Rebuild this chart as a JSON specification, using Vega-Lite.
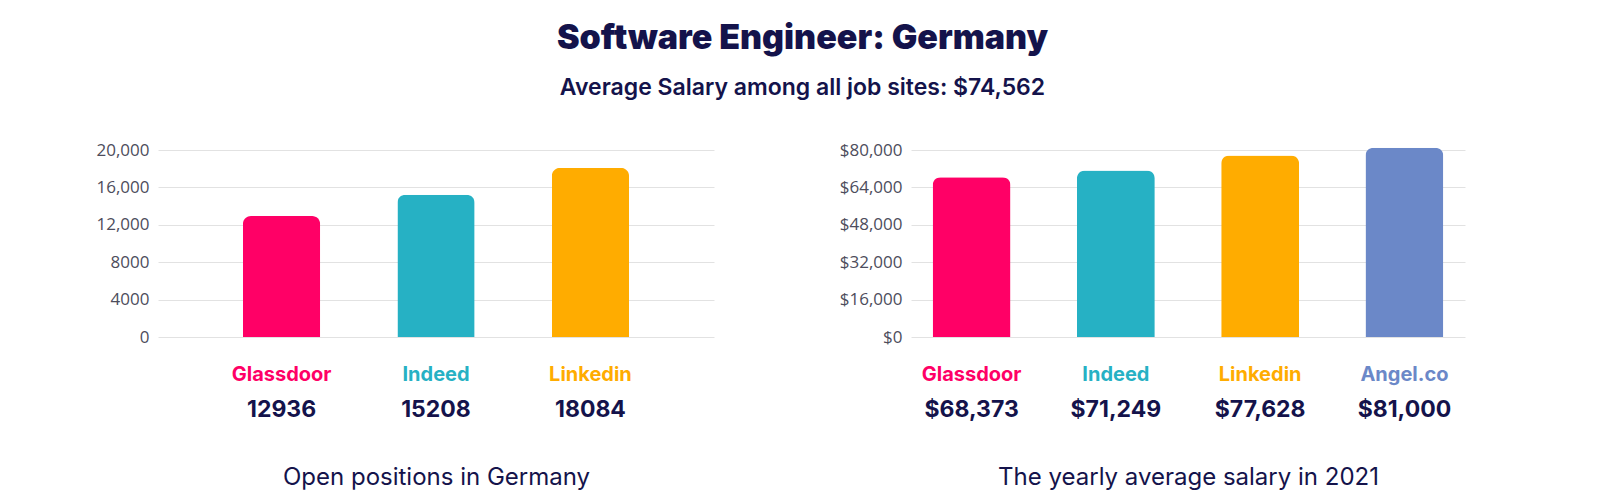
{
  "$schema": "https://vega.github.io/schema/vega-lite/v6.json",
  "background": "white",
  "padding": {"left": 95, "top": 22, "right": 10, "bottom": 5},
  "title": {
    "text": "Software Engineer: Germany",
    "subtitle": "Average Salary among all job sites: $74,562",
    "anchor": "middle",
    "dx": 22,
    "font": "Inter",
    "fontSize": 34,
    "fontWeight": 900,
    "color": "#14134b",
    "subtitleFont": "Inter",
    "subtitleFontSize": 23,
    "subtitleFontWeight": 600,
    "subtitleColor": "#14134b",
    "subtitlePadding": 21,
    "offset": 41
  },
  "datasets": {
    "positions": [
      {"site": "Glassdoor", "value": 12936, "label": "12936"},
      {"site": "Indeed", "value": 15208, "label": "15208"},
      {"site": "Linkedin", "value": 18084, "label": "18084"}
    ],
    "salary": [
      {"site": "Glassdoor", "value": 68373, "label": "$68,373"},
      {"site": "Indeed", "value": 71249, "label": "$71,249"},
      {"site": "Linkedin", "value": 77628, "label": "$77,628"},
      {"site": "Angel.co", "value": 81000, "label": "$81,000"}
    ]
  },
  "hconcat": [
    {
      "width": 556,
      "height": 187,
      "data": {"name": "positions"},
      "layer": [
        {
          "mark": {"type": "bar", "cornerRadiusTopLeft": 8, "cornerRadiusTopRight": 8, "clip": false},
          "encoding": {
            "x": {
              "field": "site", "type": "nominal", "sort": null,
              "scale": {"paddingInner": 0.5, "paddingOuter": 0.55},
              "axis": {
                "orient": "bottom", "title": null, "labelAngle": 0, "domain": false, "ticks": false, "grid": false,
                "labelPadding": 27, "labelFont": "Inter", "labelFontSize": 20, "labelFontWeight": "bold",
                "labelColor": {"condition": [
                  {"test": "datum.value === 'Glassdoor'", "value": "#ff0066"},
                  {"test": "datum.value === 'Indeed'", "value": "#26b1c4"},
                  {"test": "datum.value === 'Linkedin'", "value": "#ffac00"}
                ], "value": "#6b88c8"}
              }
            },
            "y": {
              "field": "value", "type": "quantitative",
              "scale": {"domain": [0, 20000], "nice": false},
              "axis": {
                "title": null, "values": [0, 4000, 8000, 12000, 16000, 20000],
                "labelExpr": "datum.value >= 10000 ? format(datum.value, ',') : format(datum.value, 'd')",
                "domain": false, "ticks": false, "labelPadding": 9,
                "labelFont": "Open Sans", "labelFontSize": 17, "labelColor": "#4d4d5c",
                "gridColor": "#e2e2e2"
              }
            },
            "color": {
              "field": "site", "type": "nominal",
              "scale": {"domain": ["Glassdoor", "Indeed", "Linkedin", "Angel.co"], "range": ["#ff0066", "#26b1c4", "#ffac00", "#6b88c8"]},
              "legend": null
            }
          }
        },
        {
          "mark": {"type": "bar", "opacity": 0},
          "encoding": {
            "x": {
              "field": "label", "type": "nominal", "sort": null,
              "scale": {"paddingInner": 0.5, "paddingOuter": 0.55},
              "axis": {
                "orient": "bottom", "title": "Open positions in Germany", "labelAngle": 0, "domain": false, "ticks": false, "grid": false,
                "labelPadding": 61, "labelFont": "Inter", "labelFontSize": 23, "labelFontWeight": "bold", "labelColor": "#14134b",
                "titleFont": "Inter", "titleFontSize": 24, "titleFontWeight": "normal", "titleColor": "#14134b", "titlePadding": 44
              }
            }
          }
        }
      ],
      "resolve": {"scale": {"x": "independent"}}
    },
    {
      "width": 554,
      "height": 187,
      "data": {"name": "salary"},
      "layer": [
        {
          "mark": {"type": "bar", "cornerRadiusTopLeft": 8, "cornerRadiusTopRight": 8, "clip": false},
          "encoding": {
            "x": {
              "field": "site", "type": "nominal", "sort": null,
              "scale": {"paddingInner": 0.46, "paddingOuter": 0.15},
              "axis": {
                "orient": "bottom", "title": null, "labelAngle": 0, "domain": false, "ticks": false, "grid": false,
                "labelPadding": 27, "labelFont": "Inter", "labelFontSize": 20, "labelFontWeight": "bold",
                "labelColor": {"condition": [
                  {"test": "datum.value === 'Glassdoor'", "value": "#ff0066"},
                  {"test": "datum.value === 'Indeed'", "value": "#26b1c4"},
                  {"test": "datum.value === 'Linkedin'", "value": "#ffac00"}
                ], "value": "#6b88c8"}
              }
            },
            "y": {
              "field": "value", "type": "quantitative",
              "scale": {"domain": [0, 80000], "nice": false},
              "axis": {
                "title": null, "values": [0, 16000, 32000, 48000, 64000, 80000],
                "labelExpr": "'$' + format(datum.value, ',')",
                "domain": false, "ticks": false, "labelPadding": 9,
                "labelFont": "Open Sans", "labelFontSize": 17, "labelColor": "#4d4d5c",
                "gridColor": "#e2e2e2"
              }
            },
            "color": {
              "field": "site", "type": "nominal",
              "scale": {"domain": ["Glassdoor", "Indeed", "Linkedin", "Angel.co"], "range": ["#ff0066", "#26b1c4", "#ffac00", "#6b88c8"]},
              "legend": null
            }
          }
        },
        {
          "mark": {"type": "bar", "opacity": 0},
          "encoding": {
            "x": {
              "field": "label", "type": "nominal", "sort": null,
              "scale": {"paddingInner": 0.46, "paddingOuter": 0.15},
              "axis": {
                "orient": "bottom", "title": "The yearly average salary in 2021", "labelAngle": 0, "domain": false, "ticks": false, "grid": false,
                "labelPadding": 61, "labelFont": "Inter", "labelFontSize": 23, "labelFontWeight": "bold", "labelColor": "#14134b",
                "titleFont": "Inter", "titleFontSize": 24, "titleFontWeight": "normal", "titleColor": "#14134b", "titlePadding": 44
              }
            }
          }
        }
      ],
      "resolve": {"scale": {"x": "independent"}}
    }
  ],
  "spacing": 125,
  "config": {
    "view": {"stroke": null}
  }
}
